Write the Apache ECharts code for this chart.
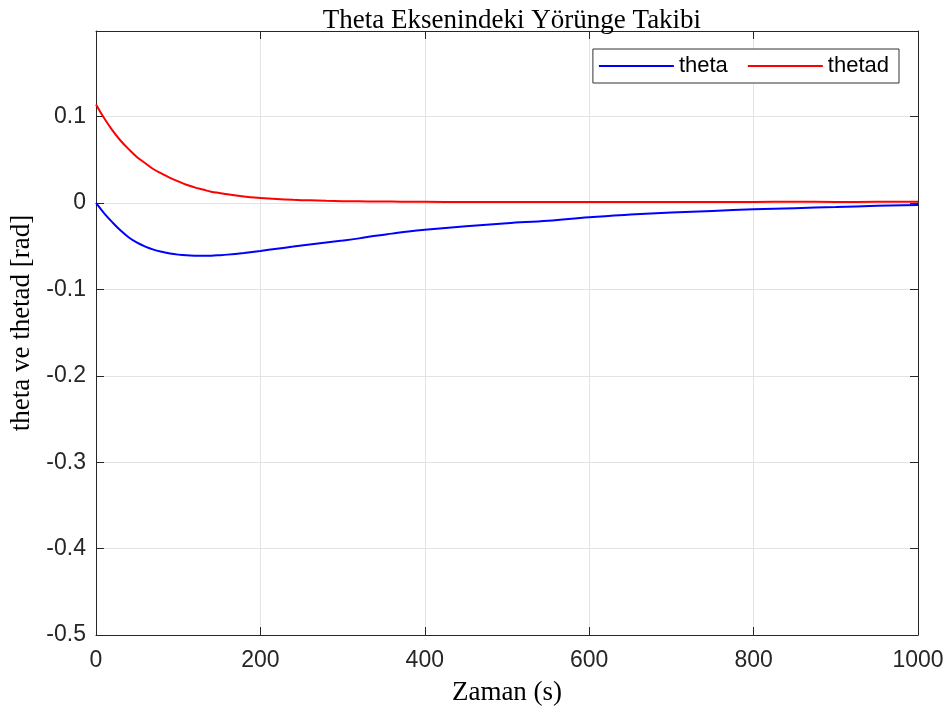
<!DOCTYPE html>
<html>
<head>
<meta charset="utf-8">
<script src="https://cdn.jsdelivr.net/npm/echarts@6/dist/echarts.min.js"></script>
<style>
  html, body { margin: 0; padding: 0; background: #fff; }
  #chart { width: 952px; height: 711px; }
</style>
</head>
<body>
<div id="chart"></div>
<script>
// Time samples (s)
var timeS = [0, 10, 20, 30, 40, 50, 60, 70, 80, 90, 100, 110, 120, 130, 140, 150, 160, 180, 200,
  220, 240, 260, 280, 300, 320, 340, 360, 380, 400, 450, 500, 550, 600, 650, 700, 750, 800, 850, 900, 950, 1000];

// Measured pitch angle (rad)
var theta = [0, -0.012, -0.0225, -0.032, -0.040, -0.046, -0.0505, -0.054, -0.0565, -0.0585, -0.0598,
  -0.0606, -0.061, -0.0611, -0.061, -0.0605, -0.0598, -0.0578, -0.0555,
  -0.053, -0.0505, -0.048, -0.0457, -0.0435, -0.041, -0.038, -0.0355, -0.033, -0.031,
  -0.027, -0.0235, -0.0205, -0.0165, -0.0135, -0.011, -0.0092, -0.0074, -0.006, -0.0047, -0.0033, -0.0025];

// Desired pitch angle (rad)
var thetad = [0.114, 0.098, 0.084, 0.072, 0.062, 0.053, 0.046, 0.039, 0.034, 0.029, 0.025,
  0.021, 0.018, 0.0155, 0.013, 0.0115, 0.010, 0.0075, 0.0058,
  0.0045, 0.0036, 0.0030, 0.0025, 0.0021, 0.0019, 0.0017, 0.0016, 0.0014, 0.0013,
  0.0012, 0.0011, 0.0012, 0.0011, 0.0012, 0.0011, 0.0012, 0.0012, 0.0013, 0.0012, 0.0013, 0.0015];

var xTicks = { min: 0, max: 1000, interval: 200 };
var yTicks = { min: -0.5, max: 0.199, interval: 0.1 };

var axisColor = '#262626';
var gridColor = '#e3e3e3';

function pairs(xs, ys) {
  return xs.map(function (x, i) { return [x, ys[i]]; });
}

var chart = echarts.init(document.getElementById('chart'), null, { renderer: 'canvas' });

chart.setOption({
  backgroundColor: '#ffffff',
  animation: false,
  title: {
    text: 'Theta Eksenindeki Yörünge Takibi',
    left: 507,
    textAlign: 'center',
    top: 2,
    textStyle: { fontFamily: 'Liberation Serif', fontSize: 27, fontWeight: 'normal', color: '#000' }
  },
  legend: {
    right: 53,
    top: 49,
    orient: 'horizontal',
    itemWidth: 75,
    itemHeight: 2,
    itemGap: 20,
    padding: [6, 10, 6, 6],
    borderColor: '#333',
    borderWidth: 1,
    backgroundColor: '#fff',
    textStyle: { fontFamily: 'Liberation Sans', fontSize: 22, color: '#000' },
    data: [
      { name: 'theta', icon: 'rect' },
      { name: 'thetad', icon: 'rect' }
    ]
  },
  grid: { left: 96, right: 34, top: 31, bottom: 76, containLabel: false },
  xAxis: [{
    type: 'value',
    min: xTicks.min, max: xTicks.max, interval: xTicks.interval,
    name: 'Zaman (s)',
    nameLocation: 'middle',
    nameGap: 44,
    nameTextStyle: { fontFamily: 'Liberation Serif', fontSize: 27, color: '#000' },
    axisLine: { show: true, onZero: false, lineStyle: { color: axisColor, width: 1 } },
    axisTick: { show: true, inside: true, length: 8, lineStyle: { color: axisColor } },
    axisLabel: {
      margin: 14, fontFamily: 'Liberation Sans', fontSize: 23, color: axisColor,
      formatter: function (v) { return String(v); }
    },
    splitLine: { show: true, lineStyle: { color: gridColor, width: 1 } }
  }, {
    type: 'value', position: 'top',
    min: xTicks.min, max: xTicks.max, interval: xTicks.interval,
    axisLine: { show: true, onZero: false, lineStyle: { color: axisColor, width: 1 } },
    axisTick: { show: true, inside: true, length: 8, lineStyle: { color: axisColor } },
    axisLabel: { show: false },
    splitLine: { show: false }
  }],
  yAxis: [{
    type: 'value',
    min: yTicks.min, max: yTicks.max, interval: yTicks.interval,
    name: 'theta ve thetad [rad]',
    nameLocation: 'middle',
    nameGap: 60,
    nameTextStyle: { fontFamily: 'Liberation Serif', fontSize: 27, color: '#000', padding: [0, 0, 0, 20] },
    axisLine: { show: true, onZero: false, lineStyle: { color: axisColor, width: 1 } },
    axisTick: { show: true, inside: true, length: 8, lineStyle: { color: axisColor } },
    axisLabel: {
      margin: 10, fontFamily: 'Liberation Sans', fontSize: 23, color: axisColor,
      showMaxLabel: false,
      formatter: function (v) { return Math.abs(v) < 1e-9 ? '0' : String(Math.round(v * 10) / 10); }
    },
    splitLine: { show: true, lineStyle: { color: gridColor, width: 1 } }
  }, {
    type: 'value', position: 'right',
    min: yTicks.min, max: yTicks.max, interval: yTicks.interval,
    axisLine: { show: true, onZero: false, lineStyle: { color: axisColor, width: 1 } },
    axisTick: { show: true, inside: true, length: 8, lineStyle: { color: axisColor } },
    axisLabel: { show: false },
    splitLine: { show: false }
  }],
  series: [{
    name: 'theta',
    type: 'line',
    data: pairs(timeS, theta),
    smooth: 0.4,
    showSymbol: false,
    color: '#0000ff',
    lineStyle: { color: '#0000ff', width: 2 }
  }, {
    name: 'thetad',
    type: 'line',
    data: pairs(timeS, thetad),
    smooth: 0.4,
    showSymbol: false,
    color: '#ff0000',
    lineStyle: { color: '#ff0000', width: 2 }
  }]
});
</script>
</body>
</html>
